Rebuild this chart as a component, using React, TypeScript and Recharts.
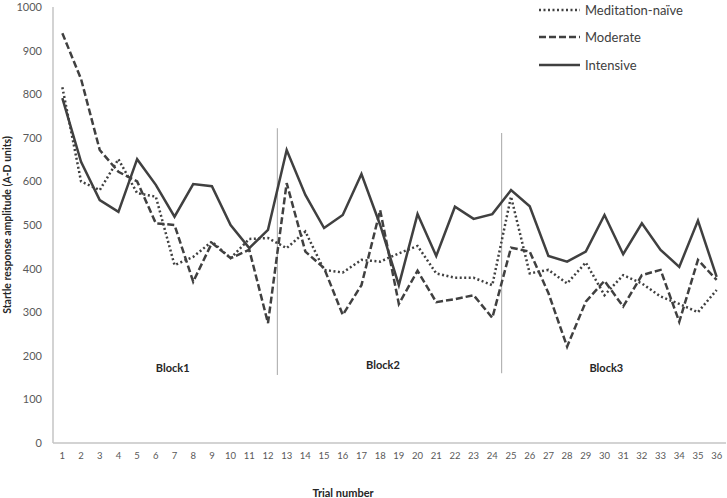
import { LineChart, Line, XAxis, YAxis, ReferenceLine, ReferenceDot } from "recharts"

const trials = [1, 2, 3, 4, 5, 6, 7, 8, 9, 10, 11, 12, 13, 14, 15, 16, 17, 18, 19, 20, 21, 22, 23, 24, 25, 26, 27, 28, 29, 30, 31, 32, 33, 34, 35, 36]

const naive = [816, 600, 580, 651, 573, 565, 408, 427, 462, 424, 468, 470, 447, 485, 397, 391, 420, 416, 435, 452, 389, 379, 379, 362, 565, 389, 397, 366, 414, 339, 385, 366, 336, 319, 300, 351]
const moderate = [940, 835, 672, 622, 600, 504, 500, 370, 459, 424, 443, 275, 596, 439, 401, 294, 362, 534, 319, 395, 323, 330, 339, 287, 448, 439, 344, 221, 324, 372, 313, 385, 397, 278, 420, 374]
const intensive = [791, 645, 557, 530, 651, 592, 519, 594, 589, 500, 447, 489, 672, 569, 493, 523, 617, 500, 362, 525, 429, 542, 514, 525, 580, 543, 429, 416, 439, 523, 433, 504, 443, 404, 510, 381]

const yTicks = [0, 100, 200, 300, 400, 500, 600, 700, 800, 900, 1000]

// block separators and labels
const blocks = [
  { name: "Block1", x: 6.9, y: 172 },
  { name: "Block2", x: 18.15, y: 179 },
  { name: "Block3", x: 30.1, y: 172 },
]
const separators = [
  { x: 12.5, from: 156, to: 722 },
  { x: 24.5, from: 160, to: 711 },
]

const legendItems = [
  { name: "Meditation-naïve", dash: "2 2.5", width: 2.5 },
  { name: "Moderate", dash: "7 3", width: 2.5 },
  { name: "Intensive", dash: undefined, width: 2.5 },
]

const data = trials.map((t, i) => ({
  trial: t,
  naive: naive[i],
  moderate: moderate[i],
  intensive: intensive[i],
}))

const font = "Lato, 'Liberation Sans', sans-serif"
const lineColor = "#404040"

export default function App() {
  return (
    <div style={{ position: "absolute", left: 0, top: 0, width: 727, height: 498, background: "#fff", fontFamily: font }}>
      <LineChart width={727} height={498} data={data} margin={{ top: 7, right: 1, left: 0, bottom: 0 }}>
        <XAxis
          dataKey="trial"
          type="number"
          domain={[0.5, 36.5]}
          ticks={trials}
          interval={0}
          height={55}
          tickLine={false}
          tickSize={0}
          tickMargin={9}
          axisLine={{ stroke: "#c4c4c4", strokeWidth: 1.5 }}
          tick={{ fontSize: 9.5, fill: "#595959", fontFamily: font }}
          label={(props: any) => {
            const vb = props.viewBox || { x: 53, y: 443 }
            return (
              <text x={vb.x + 290} y={vb.y + 54} textAnchor="middle" fontSize={11} fontWeight="bold" fill="#262626" fontFamily={font}>
                Trial number
              </text>
            )
          }}
        />
        <YAxis
          type="number"
          domain={[0, 1000]}
          ticks={yTicks}
          width={53}
          tickLine={false}
          tickSize={0}
          tickMargin={11}
          axisLine={{ stroke: "#c4c4c4", strokeWidth: 1.5 }}
          tick={{ fontSize: 11, fill: "#595959", fontFamily: font }}
          label={(props: any) => {
            const vb = props.viewBox || { x: 0, y: 7, height: 436 }
            const cy = vb.y + vb.height / 2
            return (
              <text x={7} y={cy} transform={`rotate(-90, 7, ${cy})`} textAnchor="middle" dominantBaseline="central" fontSize={10.5} fontWeight="bold" fill="#262626" fontFamily={font}>
                Startle response amplitude (A-D units)
              </text>
            )
          }}
        />
        {separators.map((s) => (
          <ReferenceLine
            key={s.x}
            segment={[{ x: s.x, y: s.from }, { x: s.x, y: s.to }]}
            stroke="#a6a6a6"
            strokeWidth={1}
          />
        ))}
        {blocks.map((b) => (
          <ReferenceDot
            key={b.name}
            x={b.x}
            y={b.y}
            r={0}
            stroke="none"
            fill="none"
            label={{ value: b.name, position: "center", fontSize: 11, fontWeight: "bold", fill: "#262626", fontFamily: font }}
          />
        ))}
        <Line dataKey="naive" stroke={lineColor} strokeWidth={2.5} strokeDasharray="2 2.5" dot={false} isAnimationActive={false} />
        <Line dataKey="moderate" stroke={lineColor} strokeWidth={2.5} strokeDasharray="7 3" dot={false} isAnimationActive={false} />
        <Line dataKey="intensive" stroke={lineColor} strokeWidth={2.5} dot={false} isAnimationActive={false} />
      </LineChart>
      <div style={{ position: "absolute", left: 538, top: -4 }}>
        {legendItems.map((it) => (
          <div key={it.name} style={{ display: "flex", alignItems: "center", height: 27.5 }}>
            <svg width={44} height={8}>
              <line x1={1} y1={4} x2={42} y2={4} stroke={lineColor} strokeWidth={it.width} strokeDasharray={it.dash} />
            </svg>
            <span style={{ fontSize: 13, color: "#404040", marginLeft: 3 }}>{it.name}</span>
          </div>
        ))}
      </div>
    </div>
  )
}
